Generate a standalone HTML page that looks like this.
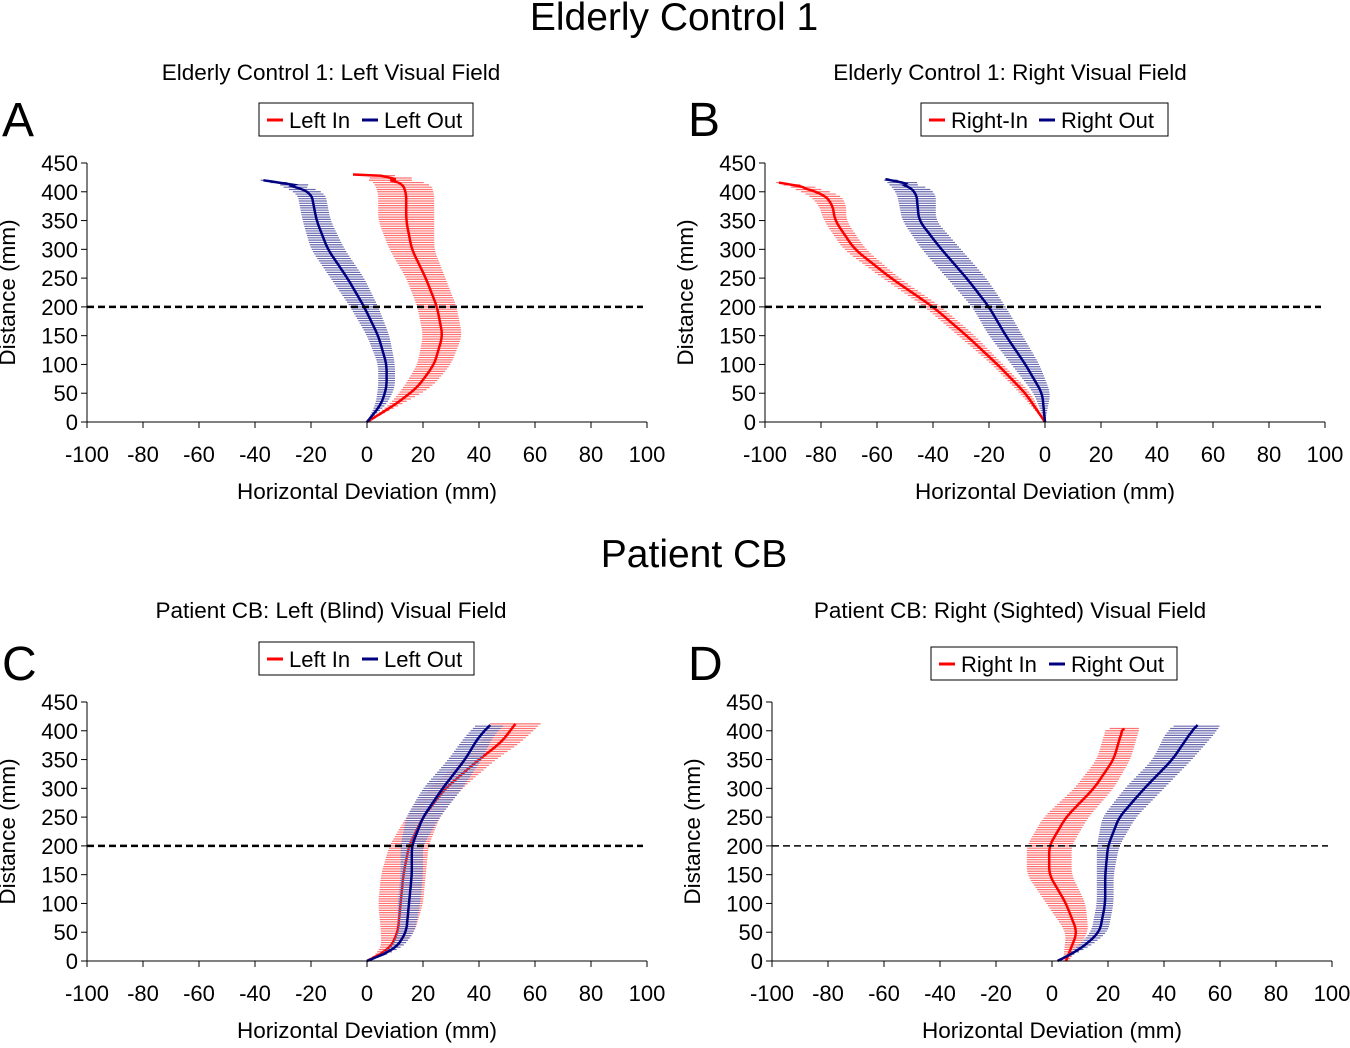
<!DOCTYPE html><html><head><meta charset="utf-8"><style>
body{margin:0;background:#fff;font-family:"Liberation Sans",Arial,sans-serif}
svg text{font-family:"Liberation Sans",Arial,sans-serif;fill:#000}
</style></head><body>
<svg id="s" width="1350" height="1043" xmlns="http://www.w3.org/2000/svg">
<text x="674" y="30" font-size="39" text-anchor="middle">Elderly Control 1</text>
<text x="694" y="567" font-size="39" text-anchor="middle">Patient CB</text>
<text x="331" y="80" font-size="22.5" text-anchor="middle">Elderly Control 1: Left Visual Field</text>
<text x="1010" y="80" font-size="22.5" text-anchor="middle">Elderly Control 1: Right Visual Field</text>
<text x="331" y="618" font-size="22.5" text-anchor="middle">Patient CB: Left (Blind) Visual Field</text>
<text x="1010" y="618" font-size="22.5" text-anchor="middle">Patient CB: Right (Sighted) Visual Field</text>
<text x="2" y="136" font-size="48">A</text>
<text x="688" y="136" font-size="48">B</text>
<text x="2" y="680" font-size="48">C</text>
<text x="688" y="680" font-size="48">D</text>
<g id="g"></g>
</svg>
<script>
const g=document.getElementById('g');let h='';
const R='#ff0000',B='#000080',RL='#ff7070',BL='#6a6ab0';
function lin(p,y){for(let i=0;i<p.length-1;i++){if(y>=p[i][0]&&y<=p[i+1][0]){const t=(y-p[i][0])/(p[i+1][0]-p[i][0]);return [p[i][1]+t*(p[i+1][1]-p[i][1]),p[i][2]+t*(p[i+1][2]-p[i][2])];}}return [p[p.length-1][1],p[p.length-1][2]];}
function interp(p,y){const ymax=p[p.length-1][0];let sm=0,se=0,n=0;for(let d=-12;d<=12;d+=2){let yy=Math.min(ymax,Math.max(0,y+d));const w=1;const r=lin(p,yy);sm+=r[0];se+=r[1];n++;}
 if(y<14||y>ymax-10)return lin(p,y);return [sm/n,se/n];}
function panel(x0,y0,P,dash){
 const X=v=>x0+v*2.8,Y=v=>y0-v*259/450;
 P.series.forEach(s=>{const p=s.p,ymax=p[p.length-1][0];
  for(let y=0;y<=ymax;y+=4){const [m,e]=interp(p,y);h+=`<line x1="${X(m-e)}" x2="${X(m+e)}" y1="${Y(y)}" y2="${Y(y)}" stroke="${s.l}" stroke-width="1.2"/>`;}
  let d='';for(let y=0;y<=ymax;y+=2){const [m]=interp(p,y);d+=(d?'L':'M')+X(m).toFixed(1)+','+Y(y).toFixed(1);}
  h+=`<path d="${d}" fill="none" stroke="${s.c}" stroke-width="2.5"/>`;});
 h+=`<line x1="${x0-280}" x2="${x0+280}" y1="${y0}" y2="${y0}" stroke="#000" stroke-width="1"/>`;
 h+=`<line x1="${x0-280}" x2="${x0-280}" y1="${y0}" y2="${Y(450)}" stroke="#000" stroke-width="1"/>`;
 for(let v=-100;v<=100;v+=20){h+=`<line x1="${X(v)}" x2="${X(v)}" y1="${y0}" y2="${y0+6}" stroke="#000"/><text x="${X(v)}" y="${y0+40}" font-size="22" text-anchor="middle">${v}</text>`;}
 for(let v=0;v<=450;v+=50){h+=`<line x1="${x0-286}" x2="${x0-280}" y1="${Y(v)}" y2="${Y(v)}" stroke="#000"/><text x="${x0-289}" y="${Y(v)+8}" font-size="22" text-anchor="end">${v}</text>`;}
 h+=`<line x1="${x0-280}" x2="${x0+276}" y1="${Y(200)}" y2="${Y(200)}" stroke="#000" stroke-width="${dash}" stroke-dasharray="7,4"/>`;
 h+=`<text x="${x0}" y="${y0+77}" font-size="22.5" text-anchor="middle">Horizontal Deviation (mm)</text>`;
 h+=`<text transform="translate(${x0-352},${Y(225)}) rotate(-90)" font-size="22.5" text-anchor="middle">Distance (mm)</text>`;
 const L=P.leg;h+=`<rect x="${L.x}" y="${L.y}" width="${L.w}" height="33" fill="#fff" stroke="#000"/>`;
 h+=`<line x1="${L.x+8}" x2="${L.x+24}" y1="${L.y+17}" y2="${L.y+17}" stroke="${R}" stroke-width="3"/><text x="${L.x+30}" y="${L.y+25}" font-size="22">${L.a}</text>`;
 h+=`<line x1="${L.x+L.b2}" x2="${L.x+L.b2+16}" y1="${L.y+17}" y2="${L.y+17}" stroke="${B}" stroke-width="3"/><text x="${L.x+L.b2+22}" y="${L.y+25}" font-size="22">${L.b}</text>`;
}
panel(367,422,{leg:{x:259,y:103,w:214,a:'Left In',b:'Left Out',b2:103},series:[
 {c:R,l:RL,p:[[0,0,0],[30,10,2],[60,18,5],[100,24,6],[150,27,7],[200,25,7],[250,21,7],[300,16,8],[350,14,10],[400,14,10],[420,12,10],[428,5,5],[430,-5,1]]},
 {c:B,l:BL,p:[[0,0,0],[30,5,2],[60,7,3],[100,7,3],[150,4,4],[200,-1,5],[250,-7,6],[300,-14,6],[350,-18,5],[400,-20,5],[412,-26,5],[420,-37,1]]}]},2.5);
panel(1045,422,{leg:{x:921,y:103,w:247,a:'Right-In',b:'Right Out',b2:118},series:[
 {c:R,l:RL,p:[[0,0,0],[50,-7,2],[100,-17,2],[150,-28,3],[200,-40,3],[250,-55,3],[300,-68,4],[350,-75,4],[380,-76,5],[400,-80,6],[410,-88,4],[416,-95,1]]},
 {c:B,l:BL,p:[[0,0,0],[50,-1,3],[100,-7,5],[150,-14,6],[200,-20,6],[250,-28,7],[300,-37,7],[350,-45,6],[400,-46,7],[415,-50,6],[422,-57,1]]}]},2.5);
panel(367,961,{leg:{x:259,y:642,w:215,a:'Left In',b:'Left Out',b2:103},series:[
 {c:R,l:RL,p:[[0,0,0],[20,8,3],[50,11,6],[100,12,8],[150,13,8],[200,15,7],[250,20,6],[300,28,6],[350,40,6],[380,48,7],[412,53,9]]},
 {c:B,l:BL,p:[[0,0,0],[20,10,2],[50,14,3],[100,15,4],[150,16,4],[200,16,4],[250,20,6],[300,27,7],[350,35,6],[390,40,5],[410,44,5]]}]},2.5);
panel(1052,961,{leg:{x:931,y:647,w:246,a:'Right In',b:'Right Out',b2:118},series:[
 {c:R,l:RL,p:[[0,5,1],[50,9,4],[100,5,7],[150,-1,8],[200,-1,8],[250,5,8],[300,15,7],[350,22,6],[400,25,6],[405,26,5]]},
 {c:B,l:BL,p:[[0,2,0],[20,10,2],[50,17,3],[100,19,3],[150,19,3],[200,20,4],[250,24,6],[300,33,7],[350,43,7],[400,50,9],[410,52,8]]}]},1.5);
g.innerHTML=h;
</script>
</body></html>
